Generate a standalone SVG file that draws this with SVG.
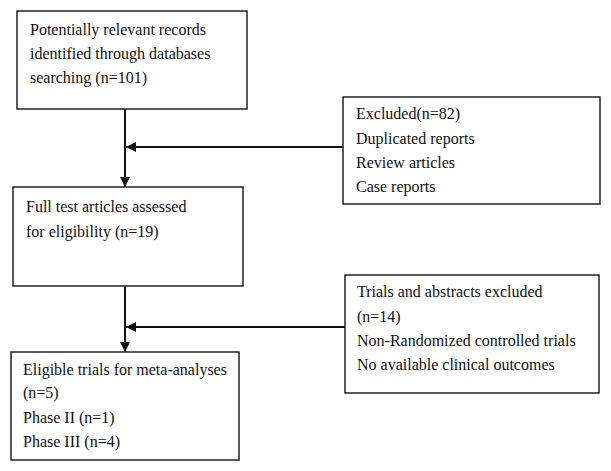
<svg xmlns="http://www.w3.org/2000/svg" width="611" height="471" viewBox="0 0 611 471">
<style>
.box{fill:#fff;stroke:#222;stroke-width:1.5}
.t{font-family:"Liberation Serif","Times New Roman",serif;font-size:16px;fill:#111}
.c{stroke:#111;stroke-width:2;fill:none}
</style>
<defs>
<marker id="ah" viewBox="0 0 10 10" refX="10" refY="5" markerWidth="5" markerHeight="5" orient="auto" markerUnits="strokeWidth">
<path d="M0,0 L10,5 L0,10 z" fill="#111"/>
</marker>
</defs>
<rect width="611" height="471" fill="#fff"/>
<g id="connectors">
<line class="c" x1="125" y1="109" x2="125" y2="187" marker-end="url(#ah)"/>
<line class="c" x1="343" y1="147" x2="126" y2="147" marker-end="url(#ah)"/>
<line class="c" x1="125" y1="286" x2="125" y2="352" marker-end="url(#ah)"/>
<line class="c" x1="345" y1="327" x2="126" y2="327" marker-end="url(#ah)"/>
</g>
<g id="n1">
<rect class="box" x="17" y="11" width="230" height="98"/>
<text class="t" x="30" y="35">Potentially relevant records</text>
<text class="t" x="30" y="59">identified through databases</text>
<text class="t" x="30" y="83">searching (n=101)</text>
</g>
<g id="n2">
<rect class="box" x="343" y="97" width="257" height="107"/>
<text class="t" x="356" y="119">Excluded(n=82)</text>
<text class="t" x="356" y="144">Duplicated reports</text>
<text class="t" x="356" y="168">Review articles</text>
<text class="t" x="356" y="192">Case reports</text>
</g>
<g id="n3">
<rect class="box" x="13" y="187" width="230" height="99"/>
<text class="t" x="26" y="212">Full test articles assessed</text>
<text class="t" x="26" y="237">for eligibility (n=19)</text>
</g>
<g id="n4">
<rect class="box" x="345" y="275" width="254" height="118"/>
<text class="t" x="357" y="297">Trials and abstracts excluded</text>
<text class="t" x="357" y="322">(n=14)</text>
<text class="t" x="357" y="346">Non-Randomized controlled trials</text>
<text class="t" x="357" y="370">No available clinical outcomes</text>
</g>
<g id="n5">
<rect class="box" x="11" y="352" width="228" height="108"/>
<text class="t" x="23" y="375">Eligible trials for meta-analyses</text>
<text class="t" x="23" y="398">(n=5)</text>
<text class="t" x="23" y="423">Phase II (n=1)</text>
<text class="t" x="23" y="447">Phase III (n=4)</text>
</g>
</svg>
